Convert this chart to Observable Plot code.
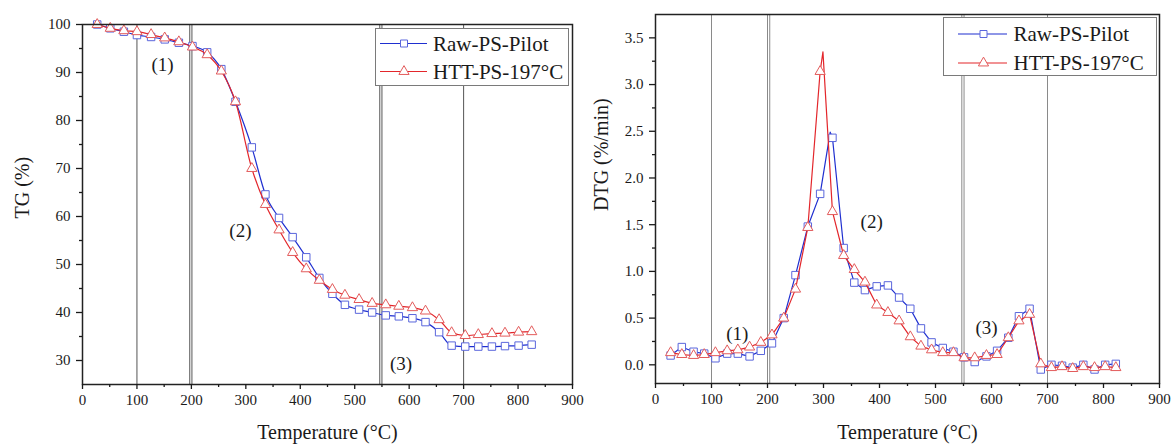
<!DOCTYPE html>
<html><head><meta charset="utf-8">
<script src="https://cdn.jsdelivr.net/npm/d3@7"></script>
<script src="https://cdn.jsdelivr.net/npm/@observablehq/plot@0.6"></script>
<style>
body{margin:0;background:#fff;}
#wrap{position:relative;width:1174px;height:448px;overflow:hidden;background:#fff;font-family:"Liberation Serif",serif;}
#wrap svg, #wrap svg text, #wrap svg g{font-family:"Liberation Serif",serif !important;}
#left{position:absolute;left:0;top:0;}
#right{position:absolute;left:590px;top:0;}
.legend{position:absolute;}
</style></head><body>
<div id="wrap"><div id="left"></div><div id="right"></div></div>
<script>
// ---------- data ----------
const seriesNames = ["Raw-PS-Pilot", "HTT-PS-197°C"];
const xTitle = "Temperature (°C)";
const tgTitle = "TG (%)";
const dtgTitle = "DTG (%/min)";

const tgTemp = [27,51,76,100,126,151,177,202,229,255,281,311,336,361,386,411,435,459,482,508,532,557,581,606,630,655,678,703,727,752,776,801,825];
const tgRaw  = [100,99.2,98.5,97.8,97.4,96.9,96.2,95.5,94.2,90.7,83.9,74.4,64.6,59.7,55.7,51.5,47.2,43.9,41.6,40.6,40.0,39.4,39.2,38.8,38.0,35.9,33.1,32.9,32.9,32.9,33.0,33.1,33.3];
const tgHtt  = [100,99.2,98.7,98.5,97.9,97.2,96.4,95.3,93.7,90.3,83.9,70.0,62.5,57.2,52.5,49.1,46.7,44.8,43.6,42.7,41.9,41.6,41.3,41.0,40.3,38.5,35.8,35.2,35.4,35.6,35.7,35.9,36.0];

const dtgTemp = [27,47,68,87,107,128,147,168,188,208,229,250,272,294,316,336,355,374,395,415,435,455,474,493,513,532,551,570,591,610,630,649,668,688,707,726,745,764,784,803,822];
const dtgRaw  = [0.10,0.19,0.14,0.12,0.07,0.12,0.12,0.09,0.15,0.23,0.50,0.96,1.48,1.83,2.43,1.25,0.88,0.80,0.84,0.85,0.72,0.60,0.39,0.24,0.18,0.14,0.08,0.03,0.09,0.15,0.29,0.52,0.60,-0.05,0.00,-0.01,-0.03,0.00,-0.05,0.00,0.01];
const dtgHtt  = [0.13,0.11,0.10,0.11,0.13,0.15,0.16,0.19,0.24,0.32,0.50,0.81,1.47,3.14,1.64,1.17,1.02,0.885,0.64,0.56,0.47,0.30,0.20,0.16,0.13,0.13,0.075,0.075,0.10,0.11,0.29,0.47,0.54,0.01,-0.03,-0.02,-0.04,-0.02,-0.03,-0.02,-0.03];
// curve apexes (between markers)
const dtgPeakTemp  = [312, 299];
const dtgPeakValue = [2.49, 3.35];

const tgDividers  = [100, 197, 201, 546, 550, 700];
const dtgDividers = [100, 200, 204, 547, 551, 700];

const noteLabels = ["(1)", "(2)", "(3)"];
const tgNoteT = [147, 290, 585];
const tgNoteV = [91.5, 57.1, 29.2];
const dtgNoteT = [146, 386, 591];
const dtgNoteV = [0.33, 1.53, 0.39];

const xTicks = [0,100,200,300,400,500,600,700,800,900];
const xMinor = [50,150,250,350,450,550,650,750,850];
const tgTicks = [30,40,50,60,70,80,90,100];
const tgMinor = [35,45,55,65,75,85,95];
const dtgTicks = [0,0.5,1.0,1.5,2.0,2.5,3.0,3.5];
const dtgMinor = [0.25,0.75,1.25,1.75,2.25,2.75,3.25];

// ---------- style ----------
const blueLine = "#1f2fd0", blueMark = "#5a66dc";
const redLine = "#e3262b", redMark = "#e35b5b";
const font = "Liberation Serif, serif";
const ink = "#1a1a1a";

const rawTG = tgTemp.map((t, i) => ({t, v: tgRaw[i]}));
const httTG = tgTemp.map((t, i) => ({t, v: tgHtt[i]}));
const rawDTG = dtgTemp.map((t, i) => ({t, v: dtgRaw[i]}));
const httDTG = dtgTemp.map((t, i) => ({t, v: dtgHtt[i]}));
const rawDTGLine = rawDTG.concat([{t: dtgPeakTemp[0], v: dtgPeakValue[0]}]).sort((a, b) => a.t - b.t);
const httDTGLine = httDTG.concat([{t: dtgPeakTemp[1], v: dtgPeakValue[1]}]).sort((a, b) => a.t - b.t);

function axes(yTicks, yMinor, yFmt) {
  return [
    Plot.axisX({ticks: xTicks, tickSize: 5, tickPadding: 5, label: null, strokeWidth: 1.3, fontSize: 15, fontFamily: font, fill: ink}),
    Plot.axisX({ticks: xMinor, tickSize: 3, tickFormat: () => "", label: null, strokeWidth: 1.3}),
    Plot.axisY({ticks: yTicks, tickSize: 6, tickPadding: 6, label: null, strokeWidth: 1.3, fontSize: 15, fontFamily: font, fill: ink, tickFormat: yFmt}),
    Plot.axisY({ticks: yMinor, tickSize: 3, tickFormat: () => "", label: null, strokeWidth: 1.3})
  ];
}

const left = Plot.plot({
  width: 590, height: 448,
  marginLeft: 82, marginRight: 18, marginTop: 24, marginBottom: 64,
  x: {domain: [0, 900]}, y: {domain: [25, 100]},
  style: "font-family: Liberation Serif, serif; font-size: 15px; color: #1a1a1a; background: transparent;",
  marks: [
    Plot.ruleX(tgDividers, {stroke: "#555", strokeWidth: 1}),
    Plot.line(rawTG, {x: "t", y: "v", stroke: blueLine, strokeWidth: 1.2, curve: "monotone-x"}),
    Plot.dot(rawTG, {x: "t", y: "v", symbol: "square", r: 4.2, stroke: blueMark, fill: "white", strokeWidth: 1}),
    Plot.line(httTG, {x: "t", y: "v", stroke: redLine, strokeWidth: 1.2, curve: "monotone-x"}),
    Plot.dot(httTG, {x: "t", y: "v", symbol: "triangle", r: 3.8, stroke: redMark, fill: "white", strokeWidth: 1}),
    Plot.frame({stroke: "#222", strokeWidth: 1.5}),
    ...axes(tgTicks, tgMinor, d3.format("d")),
    Plot.text(noteLabels, {x: (d, i) => tgNoteT[i], y: (d, i) => tgNoteV[i], text: d => d, fontSize: 19, fontFamily: font, fill: ink}),
    Plot.text([xTitle], {frameAnchor: "bottom", dy: 54, text: d => d, fontSize: 20, fontFamily: font, fill: ink}),
    Plot.text([tgTitle], {frameAnchor: "left", dx: -60, dy: 14, rotate: -90, text: d => d, fontSize: 20, fontFamily: font, fill: ink})
  ]
});
document.getElementById("left").append(left);

const right = Plot.plot({
  width: 584, height: 448,
  marginLeft: 65, marginRight: 15, marginTop: 14, marginBottom: 65,
  x: {domain: [0, 900]}, y: {domain: [-0.2, 3.75]},
  style: "font-family: Liberation Serif, serif; font-size: 15px; color: #1a1a1a; background: transparent;",
  marks: [
    Plot.ruleX(dtgDividers, {stroke: "#8a8a8a", strokeWidth: 1}),
    Plot.line(rawDTGLine, {x: "t", y: "v", stroke: blueLine, strokeWidth: 1.2}),
    Plot.dot(rawDTG, {x: "t", y: "v", symbol: "square", r: 4.2, stroke: blueMark, fill: "white", strokeWidth: 1}),
    Plot.line(httDTGLine, {x: "t", y: "v", stroke: redLine, strokeWidth: 1.2}),
    Plot.dot(httDTG, {x: "t", y: "v", symbol: "triangle", r: 3.8, stroke: redMark, fill: "white", strokeWidth: 1}),
    Plot.frame({stroke: "#222", strokeWidth: 1.5}),
    ...axes(dtgTicks, dtgMinor, d3.format(".1f")),
    Plot.text(noteLabels, {x: (d, i) => dtgNoteT[i], y: (d, i) => dtgNoteV[i], text: d => d, fontSize: 19, fontFamily: font, fill: ink}),
    Plot.text([xTitle], {frameAnchor: "bottom", dy: 55, text: d => d, fontSize: 20, fontFamily: font, fill: ink}),
    Plot.text([dtgTitle], {frameAnchor: "left", dx: -54, dy: 12, rotate: -90, text: d => d, fontSize: 20, fontFamily: font, fill: ink})
  ]
});
document.getElementById("right").append(right);

// ---------- legends ----------
function legend(cfg) {
  const svg = d3.create("svg")
    .attr("class", "legend")
    .attr("width", cfg.w).attr("height", cfg.h)
    .style("left", cfg.left + "px").style("top", cfg.top + "px");
  svg.append("rect").attr("x", 0.5).attr("y", 0.5).attr("width", cfg.w - 1).attr("height", cfg.h - 1)
    .attr("fill", "white").attr("stroke", "#7a7a7a").attr("stroke-width", 1);
  const items = [
    {name: seriesNames[0], line: blueLine, mark: blueMark, sym: d3.symbolSquare, size: 49},
    {name: seriesNames[1], line: redLine, mark: redMark, sym: d3.symbolTriangle, size: 45}
  ];
  items.forEach((it, i) => {
    const y = cfg.rows[i];
    svg.append("line").attr("x1", cfg.x1).attr("x2", cfg.x2).attr("y1", y).attr("y2", y)
      .attr("stroke", it.line).attr("stroke-width", 1.2);
    svg.append("path").attr("d", d3.symbol(it.sym, it.size)())
      .attr("transform", `translate(${cfg.xm},${y})`)
      .attr("fill", "white").attr("stroke", it.mark).attr("stroke-width", 1);
    svg.append("text").attr("x", cfg.xt).attr("y", y).attr("dy", "0.35em")
      .attr("font-family", font).attr("font-size", 21).attr("fill", ink).text(it.name);
  });
  document.getElementById("wrap").append(svg.node());
}
legend({left: 375, top: 28, w: 194, h: 58, rows: [15.5, 43.5], x1: 5, x2: 52, xm: 29, xt: 58});
legend({left: 943, top: 17, w: 214, h: 59, rows: [17, 46], x1: 15, x2: 64, xm: 40.5, xt: 70.5});
</script>
</body></html>
